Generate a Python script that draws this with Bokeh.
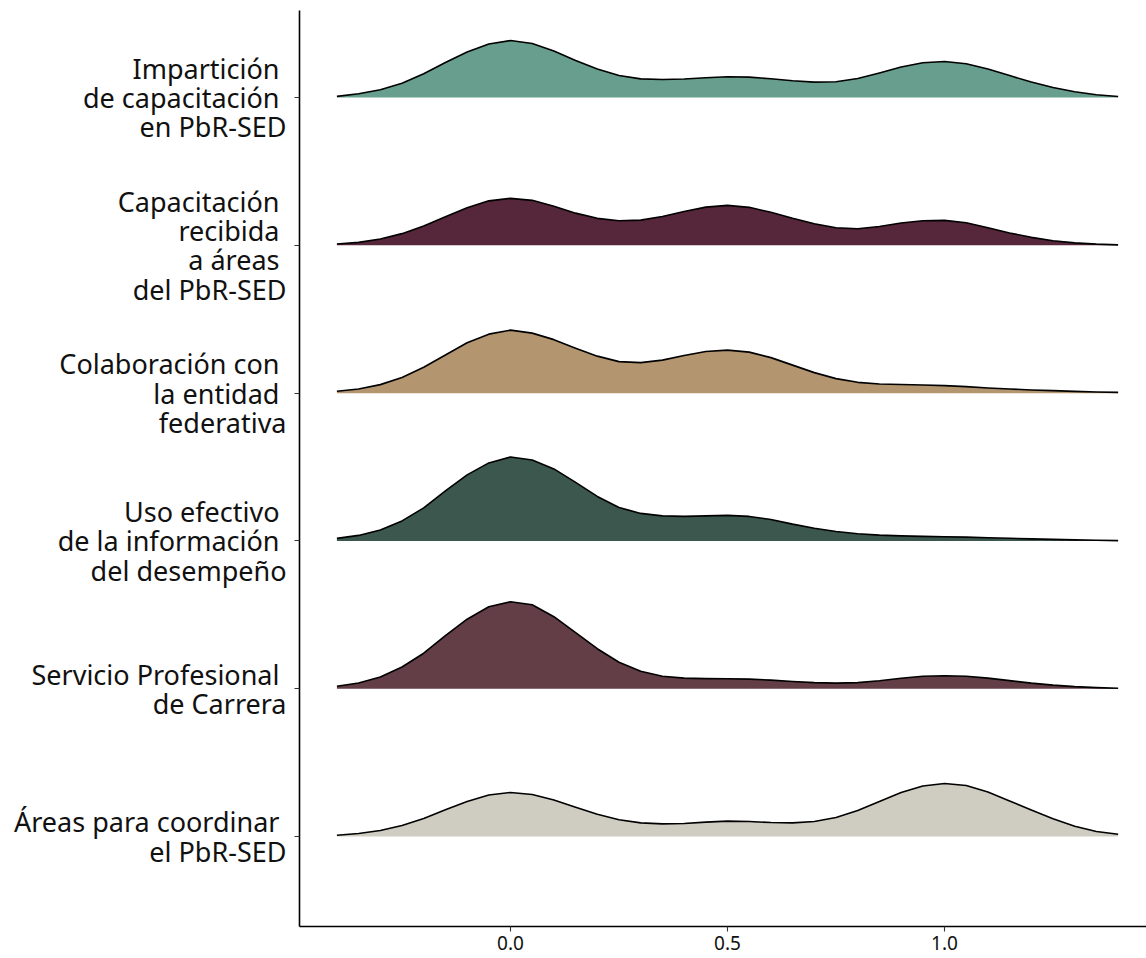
from bokeh.plotting import figure
from bokeh.models import FixedTicker, Range1d
from bokeh.embed import file_html
from bokeh.resources import INLINE

# Categories, top to bottom
categories = [
    "Impartición \nde capacitación \nen PbR-SED",
    "Capacitación \nrecibida \na áreas \ndel PbR-SED",
    "Colaboración con \nla entidad \nfederativa",
    "Uso efectivo \nde la información \ndel desempeño",
    "Servicio Profesional \nde Carrera",
    "Áreas para coordinar \nel PbR-SED",
]
colors = ["#679e8d", "#56263a", "#b39670", "#3b574e", "#633e47", "#cfccc1"]

# Evaluation grid of the density curves
x_vals = [-0.4, -0.35, -0.3, -0.25, -0.2, -0.15, -0.1, -0.05, 0.0, 0.05, 0.1, 0.15,
          0.2, 0.25, 0.3, 0.35, 0.4, 0.45, 0.5, 0.55, 0.6, 0.65, 0.7, 0.75, 0.8,
          0.85, 0.9, 0.95, 1.0, 1.05, 1.1, 1.15, 1.2, 1.25, 1.3, 1.35, 1.4]

# Density heights (relative units)
dens_imparticion = [1.2, 3.8, 7.8, 14.2, 23.8, 35, 45.6, 53.5, 57, 54, 46.5, 37, 28.5, 22, 18.7, 18, 18.6, 19.8,
                    20.8, 20.4, 18.8, 16.8, 15.4, 15.8, 19, 24.5, 30.5, 34.8, 36, 33.8, 28.6, 22, 15.5,
                    10, 5.8, 2.8, 1]
dens_capacitacion = [1.3, 3, 6.4, 11.7, 19.3, 28.5, 37.6, 44.5, 47, 45, 39, 32.2, 27, 24.6, 25.2,
                     28.8, 33.8, 38.2, 40, 38, 33, 27, 21.6, 17.6, 16.6, 18.8, 22.4, 24.6, 25, 22.6,
                     17.6, 12.4, 8, 4.6, 2.5, 1.2, 0.5]
dens_colaboracion = [1.8, 4.1, 8.5, 15.7, 25.9, 38.2, 50.4, 59, 63, 60, 53.5, 45, 37, 31.5, 30.5,
                     33, 37.6, 41.6, 43, 41, 35.5, 28, 20.5, 14.5, 10.8, 9.2, 8.6, 8.1, 7.5, 6.5, 5.2, 4.1,
                     3.2, 2.5, 1.8, 1.2, 0.8]
dens_uso = [2.5, 5.5, 11, 20, 33, 50, 66, 78, 84, 81, 72, 58.5, 44.5, 33.5, 27.5, 25, 24.5, 25, 25.5,
            24.5, 21.5, 16.8, 12.6, 9.4, 7.2, 5.8, 5, 4.5, 4.2, 3.8, 3.2, 2.6, 2, 1.5, 1, 0.6, 0.3]
dens_servicio = [2.5, 5.7, 11.8, 21.7, 35.5, 53, 69.5, 82, 87, 84, 72, 56, 40, 26.5, 17.5, 12.5, 10.6,
                 10.1, 10, 9.6, 8.6, 7.2, 6.1, 5.6, 6.1, 7.9, 10.4, 12.4, 13, 12.4, 10.6, 8.1, 5.6, 3.6,
                 2.1, 1.1, 0.5]
dens_areas = [1.2, 3, 6, 11, 18, 26.7, 35, 41.5, 44, 42, 36.5, 29.2, 22.2, 16.8, 13.6, 12.6, 13,
              14.4, 15.4, 15, 14, 13.6, 15, 19, 26, 35, 44, 50.5, 53, 51, 44.5, 35.5, 26.5, 17.8, 10.2,
              5, 2.2]
densities = [dens_imparticion, dens_capacitacion, dens_colaboracion, dens_uso,
             dens_servicio, dens_areas]

x_ticks = [0.0, 0.5, 1.0]
x_tick_labels = ["0.0", "0.5", "1.0"]

SCALE = 1 / 147.8  # category units per density unit

n = len(categories)
positions = [n - i for i in range(n)]  # top category at highest position

p = figure(width=1146, height=958, output_backend="svg", toolbar_location=None,
           x_range=Range1d(-0.4862, 1.4654), y_range=Range1d(0.391, 6.589),
           min_border_left=299, min_border_right=0, min_border_top=10, min_border_bottom=32)

for cat, col, dens, pos in zip(categories, colors, densities, positions):
    top = [pos + d * SCALE for d in dens]
    base = [pos] * len(dens)
    p.varea(x=x_vals, y1=base, y2=top, fill_color=col, fill_alpha=1.0)
    p.line(x=x_vals, y=top, line_color="black", line_width=1.6, line_join="round")

p.xgrid.visible = False
p.ygrid.visible = False
p.outline_line_color = None
p.background_fill_color = "white"
p.border_fill_color = "white"

# Axes
p.xaxis.ticker = FixedTicker(ticks=x_ticks)
p.xaxis.major_label_overrides = {t: l for t, l in zip(x_ticks, x_tick_labels)}
p.yaxis.ticker = FixedTicker(ticks=positions)
p.yaxis.major_label_overrides = {pos: cat for pos, cat in zip(positions, categories)}

for ax in (p.xaxis, p.yaxis):
    ax.axis_line_color = "black"
    ax.axis_line_width = 1.6
    ax.major_tick_line_color = "#333333"
    ax.major_tick_line_width = 1.1
    ax.major_tick_in = 0
    ax.major_tick_out = 5
    ax.minor_tick_line_color = None
    ax.major_label_text_color = "#111111"
    ax.major_label_text_font = "Noto Sans"

p.yaxis.major_label_text_font_size = "27px"
p.yaxis.major_label_text_line_height = 0.79
p.yaxis.major_label_standoff = 8
p.xaxis.major_label_text_font_size = "19px"
p.xaxis.major_label_standoff = 4

open("out.html", "w").write(file_html(p, INLINE))
